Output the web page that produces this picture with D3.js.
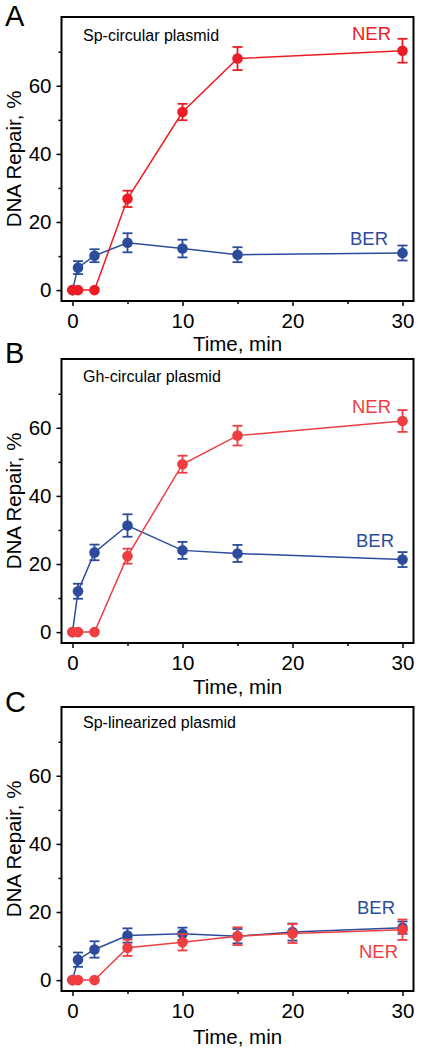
<!DOCTYPE html>
<html><head><meta charset="utf-8">
<script src="https://cdn.jsdelivr.net/npm/d3@7"></script>
<style>body{margin:0;background:#fff}svg{display:block}text{font-family:"Liberation Sans",Arial,sans-serif}</style>
</head><body>
<script>
// ---- data ----
const panelLetters = ["A", "B", "C"];
const panelTitles = ["Sp-circular plasmid", "Gh-circular plasmid", "Sp-linearized plasmid"];
const timesAB = [0, 0.5, 2, 5, 10, 15, 30];
const timesC = [0, 0.5, 2, 5, 10, 15, 20, 30];
const nerA = [0, 0, 0, 26.8, 52.3, 68.0, 70.3];
const nerAErr = [0, 0, 0, 2.4, 2.4, 3.4, 3.5];
const berA = [0, 6.6, 10.1, 13.9, 12.2, 10.4, 10.9];
const berAErr = [0, 1.9, 1.9, 2.8, 2.6, 2.2, 2.2];
const nerB = [0, 0, 0, 22.3, 49.3, 57.7, 62.0];
const nerBErr = [0, 0, 0, 2.2, 2.5, 2.9, 3.2];
const berB = [0, 12.0, 23.4, 31.3, 24.0, 23.1, 21.3];
const berBErr = [0, 2.2, 2.3, 3.3, 2.5, 2.5, 2.2];
const nerC = [0, 0, 0, 9.5, 11.1, 12.9, 13.7, 14.8];
const nerCErr = [0, 0, 0, 2.4, 2.4, 2.6, 2.8, 3.0];
const berC = [0, 6.0, 9.0, 13.1, 13.6, 12.9, 14.1, 15.4];
const berCErr = [0, 2.1, 2.4, 2.1, 1.8, 2.1, 2.5, 1.8];
const xMajorTicks = [0, 10, 20, 30];
const xMinorTicks = [5, 15, 25];
const yMajorTicks = [0, 20, 40, 60];
const yMinorTicks = [10, 30, 50, 70];
const xTitle = "Time, min";
const yTitle = "DNA Repair, %";

const panels = [
  {times: timesAB, ner: nerA, nerErr: nerAErr, ber: berA, berErr: berAErr, red: "#ec1c24",
   nerLab: [352, 23], berLab: [350, 228], titleY: 24, letterY: 26, xTitleY: 50},
  {times: timesAB, ner: nerB, nerErr: nerBErr, ber: berB, berErr: berBErr, red: "#ef3e42",
   nerLab: [352, 54], berLab: [356, 188], titleY: 23, letterY: 363, xTitleY: 51},
  {times: timesC, ner: nerC, nerErr: nerCErr, ber: berC, berErr: berCErr, red: "#ef3e42",
   nerLab: [359, 251], berLab: [357, 207], titleY: 21, letterY: 712, xTitleY: 53}
];
const tops = [17, 359, 707];
const W = 421, H = 1050;
const pl = 61.5, pw = 352, ph = 284;
const blue = "#2c4b9c";
const fs = 20.5;

const svg = d3.select("body").append("svg").attr("width", W).attr("height", H);
const x = d3.scaleLinear().domain([-1, 31]).range([0, pw]);
const y = d3.scaleLinear().domain([-3.2, 80.2]).range([ph, 0]);

panels.forEach((p, i) => {
  const g = svg.append("g").attr("transform", `translate(${pl},${tops[i]})`);
  // axes
  g.append("g").attr("transform", `translate(0,${ph})`)
    .call(d3.axisBottom(x).tickValues(xMajorTicks).tickSize(5).tickPadding(7).tickFormat(d3.format("d")));
  g.append("g").attr("transform", `translate(0,${ph})`)
    .call(d3.axisBottom(x).tickValues(xMinorTicks).tickSize(3).tickFormat(""));
  g.append("g")
    .call(d3.axisLeft(y).tickValues(yMajorTicks).tickSize(5).tickPadding(5).tickFormat(d3.format("d")));
  g.append("g").call(d3.axisLeft(y).tickValues(yMinorTicks).tickSize(3).tickFormat(""));
  g.selectAll(".domain").remove();
  g.selectAll(".tick line").attr("stroke", "#000").attr("stroke-width", 1.5);
  g.selectAll(".tick text").attr("font-size", fs).attr("fill", "#000")
    .style("font-family", '"Liberation Sans", Arial, sans-serif');
  // frame
  g.append("rect").attr("width", pw).attr("height", ph).attr("fill", "none")
    .attr("stroke", "#000").attr("stroke-width", 2);

  const series = [
    {vals: p.ber, err: p.berErr, color: blue},
    {vals: p.ner, err: p.nerErr, color: p.red}
  ];
  series.forEach(s => {
    const pts = p.times.map((t, k) => ({t, v: s.vals[k], e: s.err[k]}));
    g.append("path").datum(pts).attr("fill", "none").attr("stroke", s.color).attr("stroke-width", 1.5)
      .attr("d", d3.line().x(d => x(d.t)).y(d => y(d.v)));
    const eb = g.append("g").attr("stroke", s.color).attr("stroke-width", 1.8);
    pts.filter(d => d.e > 0).forEach(d => {
      eb.append("line").attr("x1", x(d.t)).attr("x2", x(d.t)).attr("y1", y(d.v - d.e)).attr("y2", y(d.v + d.e));
      [d.v - d.e, d.v + d.e].forEach(v => eb.append("line")
        .attr("x1", x(d.t) - 5).attr("x2", x(d.t) + 5).attr("y1", y(v)).attr("y2", y(v)));
    });
    g.append("g").selectAll("circle").data(pts).join("circle")
      .attr("cx", d => x(d.t)).attr("cy", d => y(d.v)).attr("r", 5.3).attr("fill", s.color);
  });

  g.append("text").attr("x", 83 - pl).attr("y", p.titleY).attr("font-size", 16).text(panelTitles[i]);
  g.append("text").attr("x", p.nerLab[0] - pl).attr("y", p.nerLab[1]).attr("font-size", 18.5)
    .attr("fill", p.red).text("NER");
  g.append("text").attr("x", p.berLab[0] - pl).attr("y", p.berLab[1]).attr("font-size", 18.5)
    .attr("fill", blue).text("BER");
  // titles
  g.append("text").attr("x", pw / 2).attr("y", ph + p.xTitleY).attr("text-anchor", "middle")
    .attr("font-size", fs).text(xTitle);
  g.append("text").attr("transform", `translate(${14 - pl},${ph / 2}) rotate(-90)`)
    .attr("text-anchor", "middle").attr("dy", "0.35em").attr("font-size", fs).text(yTitle);
  svg.append("text").attr("x", 5).attr("y", p.letterY).attr("font-size", 29).text(panelLetters[i]);
});
</script>
</body></html>
